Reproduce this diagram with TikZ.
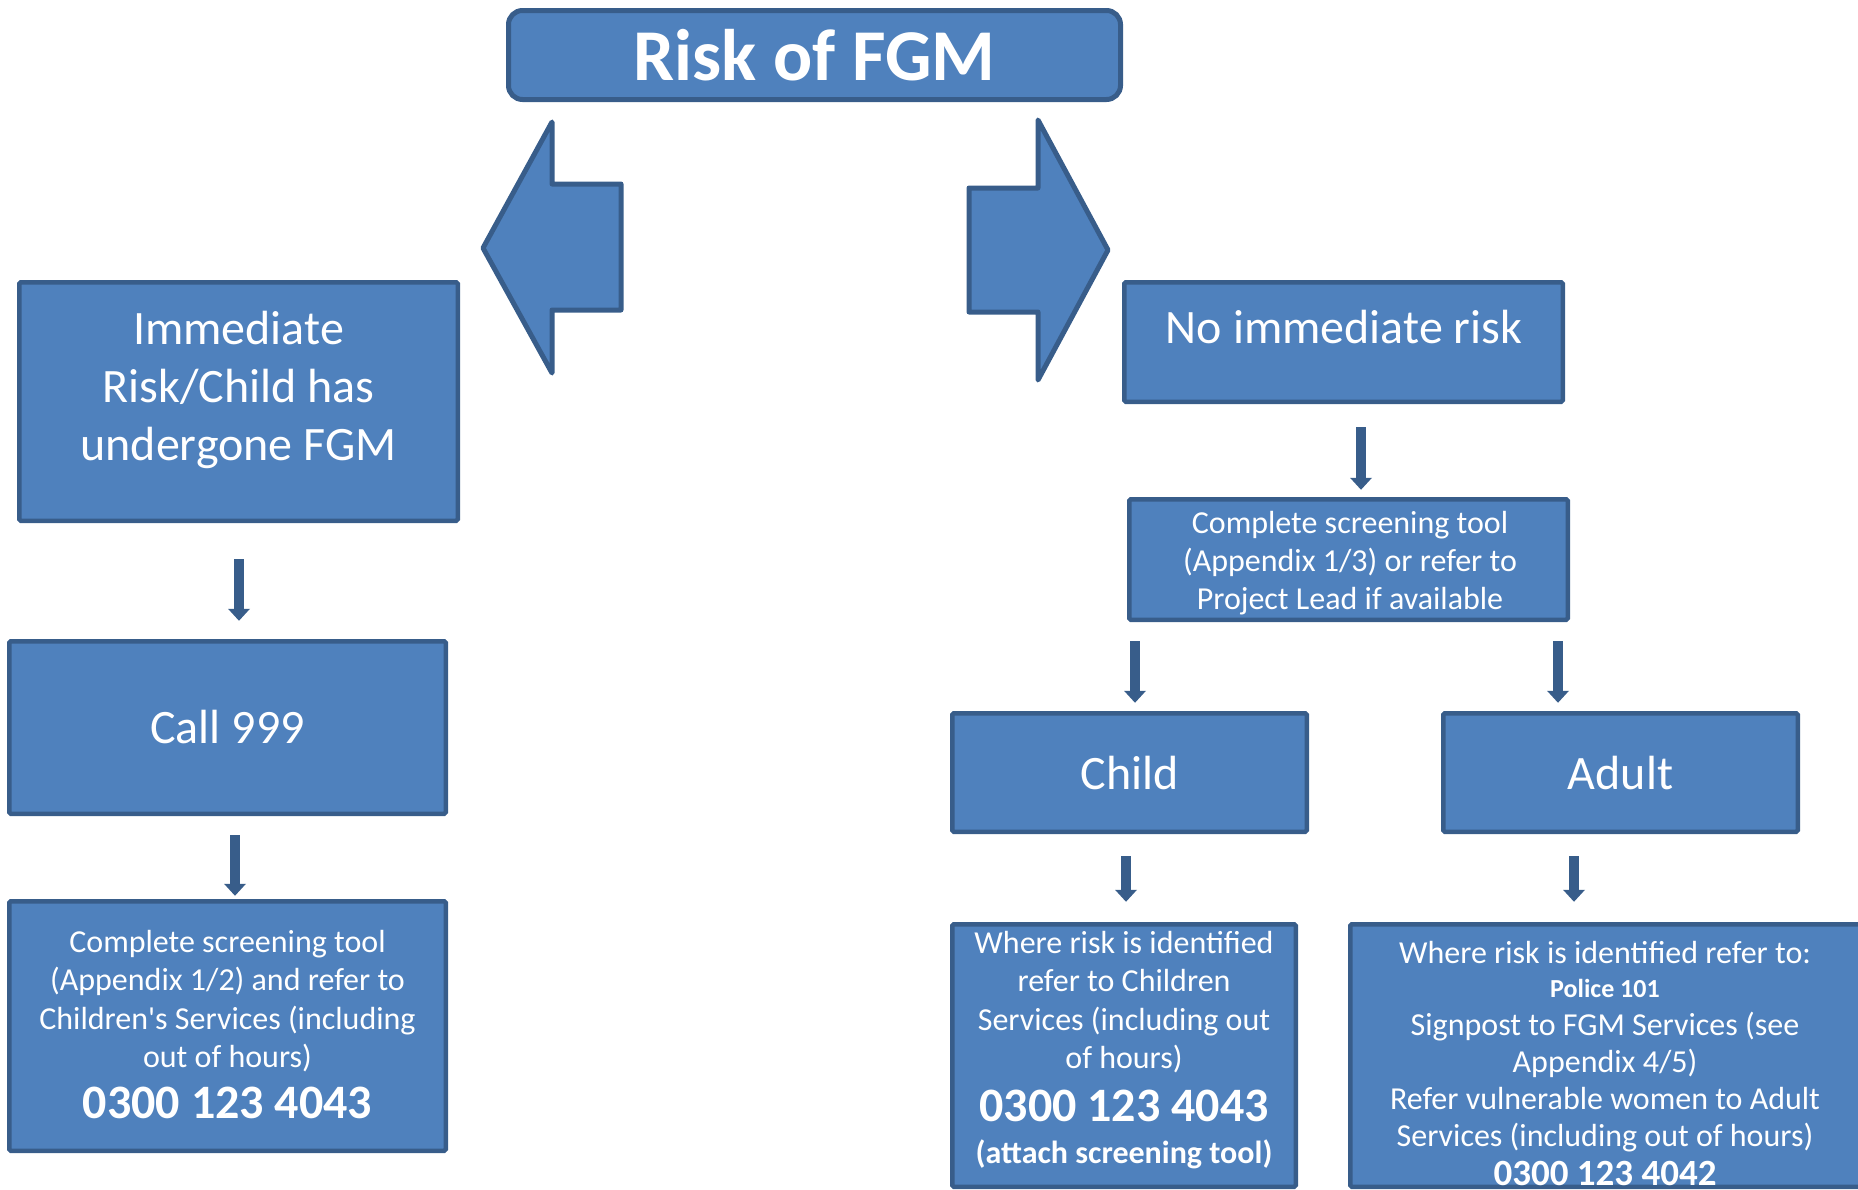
\documentclass[tikz,border=0pt]{standalone}
\usepackage{fontspec}
\setmainfont{Carlito}[Ligatures=TeXOff]
\usetikzlibrary{arrows.meta}
\definecolor{boxfill}{HTML}{4F81BD}
\definecolor{boxline}{HTML}{385D8A}
\begin{document}
\begin{tikzpicture}[x=1pt,y=-1pt,
  box/.style={draw=boxline, fill=boxfill, line width=4.5pt, inner sep=0pt, rounded corners=1.5pt, text=white},
  txt/.style={text=white, inner sep=0pt, align=center},
  fbig/.style={font=\fontsize{48}{58}\selectfont},
  fmid/.style={font=\fontsize{32}{38.3}\selectfont},
  darr/.style={draw=boxline, line width=9.5pt, -{Triangle[width=22pt,length=12pt,line width=0pt]}},
  blockarrow/.style={draw=boxline, fill=boxfill, line width=5pt, line join=round}
]
\useasboundingbox (0,0) rectangle (1858,1189);
\clip (0,0) rectangle (1858,1189);

% title
\node[box, minimum width=612pt, minimum height=89pt, rounded corners=14pt, line width=5pt,
      font=\fontsize{73}{80}\selectfont\bfseries] (title) at (814.5,55) {Risk of FGM};

% block arrows
\draw[blockarrow] (483,248) -- (552,122) -- (552,184) -- (621,184) -- (621,310) -- (552,310) -- (552,373) -- cycle;
\draw[blockarrow] (1108,250) -- (1038,120) -- (1038,188) -- (969,188) -- (969,312) -- (1038,312) -- (1038,380) -- cycle;

% left column
\node[box, minimum width=438.5pt, minimum height=238.5pt] (imm) at (238.5,401.5) {};
\node[txt, fbig] (immt) at (238.5,390) {Immediate\\Risk/Child has\\undergone FGM};
\node[box, minimum width=436.5pt, minimum height=172.5pt, fbig] (call) at (227.5,727.5) {Call 999};
\node[box, minimum width=436.5pt, minimum height=249.5pt] (lbot) at (227.5,1026) {};
\node[txt, fmid] (lbott) at (227.5,1001) {Complete screening tool\\(Appendix 1/2) and refer to\\Children's Services (including\\out of hours)};
\node[txt, font=\fontsize{48}{58}\selectfont\bfseries] (lbotp) at (227.5,1103) {0300 123 4043};

% right column
\node[box, minimum width=438.5pt, minimum height=119.5pt] (noimm) at (1343.5,342) {};
\node[txt, fbig] (noimmt) at (1344,327) {No immediate risk};
\node[box, minimum width=438.5pt, minimum height=120.5pt] (scr) at (1348.5,559.5) {};
\node[txt, fmid] (scrt) at (1350,563) {Complete screening tool\\(Appendix 1/3) or refer to\\Project Lead if available};
\node[box, minimum width=354.5pt, minimum height=118.5pt, fbig] (child) at (1129.5,772.5) {Child};
\node[box, minimum width=354.5pt, minimum height=118.5pt, fbig] (adult) at (1620.5,772.5) {Adult};

\node[box, minimum width=343.5pt, minimum height=262.5pt] (cbot) at (1124,1055.5) {};
\node[txt, fmid] (cbott) at (1124,1002) {Where risk is identified\\refer to Children\\Services (including out\\of hours)};
\node[txt, font=\fontsize{48}{58}\selectfont\bfseries] (cbotp) at (1124,1106) {0300 123 4043};
\node[txt, font=\fontsize{32}{38}\selectfont\bfseries] (cbota) at (1124,1154) {(attach screening tool)};

\node[box, minimum width=527.5pt, minimum height=262.5pt] (abot) at (1614,1055.5) {};
\node[txt, fmid] (abot1) at (1605,953) {Where risk is identified refer to:};
\node[txt, font=\fontsize{26}{31}\selectfont\bfseries] (abot2) at (1605,988) {Police 101};
\node[txt, font=\fontsize{32}{36.7}\selectfont] (abot3) at (1605,1082) {Signpost to FGM Services (see\\Appendix 4/5)\\Refer vulnerable women to Adult\\Services (including out of hours)};
\node[txt, font=\fontsize{37}{44}\selectfont\bfseries] (abotp) at (1605,1173) {0300 123 4042};

% down arrows
\draw[darr, shorten <=36.25pt, shorten >=18.25pt] ([xshift=0.5pt]imm.south) -- ([xshift=0.5pt]imm.south |- call.north);
\draw[darr, shorten <=19.25pt, shorten >=3.25pt] ([xshift=7.5pt]call.south) -- ([xshift=7.5pt]call.south |- lbot.north);
\draw[darr, shorten <=23.25pt, shorten >=7.25pt] ([xshift=17.5pt]noimm.south) -- ([xshift=17.5pt]noimm.south |- scr.north);
\draw[darr, shorten <=19.25pt, shorten >=8.25pt] ([xshift=5.5pt]child.north |- scr.south) -- ([xshift=5.5pt]child.north);
\draw[darr, shorten <=19.25pt, shorten >=8.25pt] ([xshift=-62.5pt]adult.north |- scr.south) -- ([xshift=-62.5pt]adult.north);
\draw[darr, shorten <=22.25pt, shorten >=20.25pt] ([xshift=-3.5pt]child.south) -- ([xshift=-3.5pt]child.south |- cbot.north);
\draw[darr, shorten <=22.25pt, shorten >=20.25pt] ([xshift=-46.5pt]adult.south) -- ([xshift=-46.5pt]adult.south |- abot.north);
\end{tikzpicture}
\end{document}
